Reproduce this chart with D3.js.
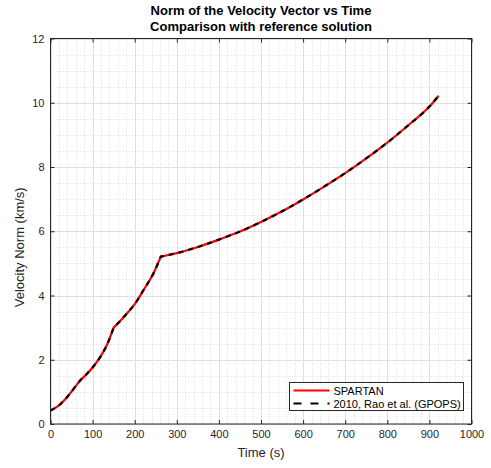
<!DOCTYPE html>
<html>
<head>
<meta charset="utf-8">
<script src="https://cdn.jsdelivr.net/npm/d3@7"></script>
<style>
  html, body { margin: 0; padding: 0; background: #fff; }
  svg { display: block; font-family: "Liberation Sans", Arial, Helvetica, sans-serif; }
</style>
</head>
<body>
<svg id="chart" width="491" height="468"></svg>
<script>
// Time samples (s) and velocity norm (km/s) for the two trajectories
const timeSpartan = [0, 20, 35, 50, 71, 85, 100, 118, 135, 150, 165, 182, 200, 221, 245, 262, 280, 300, 350, 400, 450, 500, 550, 600, 650, 700, 750, 800, 850, 900, 922];
const velSpartan  = [0.42, 0.58, 0.77, 1.01, 1.36, 1.54, 1.76, 2.08, 2.49, 3.00, 3.20, 3.45, 3.73, 4.17, 4.70, 5.21, 5.26, 5.32, 5.51, 5.74, 5.99, 6.29, 6.62, 6.99, 7.39, 7.81, 8.27, 8.76, 9.30, 9.88, 10.22];
const timeGpops = [0, 20, 35, 50, 71, 85, 100, 118, 135, 150, 165, 182, 200, 221, 245, 262, 280, 300, 350, 400, 450, 500, 550, 600, 650, 700, 750, 800, 850, 900, 922];
const velGpops  = [0.42, 0.58, 0.77, 1.01, 1.36, 1.54, 1.76, 2.08, 2.49, 3.00, 3.20, 3.45, 3.73, 4.17, 4.70, 5.21, 5.26, 5.32, 5.51, 5.74, 5.99, 6.29, 6.62, 6.99, 7.39, 7.81, 8.27, 8.76, 9.30, 9.88, 10.22];
// Phase boundaries (s): the velocity profile has corners here
const phaseBreaks = [150, 262];

const xTicks = [0, 100, 200, 300, 400, 500, 600, 700, 800, 900, 1000];
const yTicks = [0, 2, 4, 6, 8, 10, 12];
const seriesNames = ["SPARTAN", "2010, Rao et al. (GPOPS)"];
const titleLines = ["Norm of the Velocity Vector vs Time", "Comparison with reference solution"];

const svg = d3.select("#chart");
const plotL = 50.5, plotR = 471.5, plotT = 38.5, plotB = 424;
const x = d3.scaleLinear().domain([0, 1000]).range([plotL, plotR]);
const y = d3.scaleLinear().domain([0, 12]).range([plotB, plotT]);
const ink = "#262626";

// Minor grid (dotted)
const xMinor = d3.range(0, 1001, 20).filter(v => v % 100 !== 0);
const yMinor = d3.range(0, 12.01, 0.5).filter(v => v % 2 !== 0);
const grid = svg.append("g");
grid.selectAll("line.xm").data(xMinor).enter().append("line")
  .attr("x1", d => Math.round(x(d)) + 0.5).attr("x2", d => Math.round(x(d)) + 0.5)
  .attr("y1", plotT).attr("y2", plotB)
  .attr("stroke", "#d8d8d8").attr("stroke-width", 1).attr("stroke-dasharray", "1,2");
grid.selectAll("line.ym").data(yMinor).enter().append("line")
  .attr("y1", d => Math.round(y(d)) + 0.5).attr("y2", d => Math.round(y(d)) + 0.5)
  .attr("x1", plotL).attr("x2", plotR)
  .attr("stroke", "#d8d8d8").attr("stroke-width", 1).attr("stroke-dasharray", "1,2");
// Major grid
grid.selectAll("line.xM").data(xTicks).enter().append("line")
  .attr("x1", d => Math.round(x(d)) + 0.5).attr("x2", d => Math.round(x(d)) + 0.5)
  .attr("y1", plotT).attr("y2", plotB)
  .attr("stroke", "#dedede").attr("stroke-width", 1);
grid.selectAll("line.yM").data(yTicks).enter().append("line")
  .attr("y1", d => Math.round(y(d)) + 0.5).attr("y2", d => Math.round(y(d)) + 0.5)
  .attr("x1", plotL).attr("x2", plotR)
  .attr("stroke", "#dedede").attr("stroke-width", 1);

// Smooth within each flight phase, keep the corners at phase boundaries
const seg = d3.line().x(d => x(d[0])).y(d => y(d[1])).curve(d3.curveMonotoneX);
function phasedPath(ts, vs) {
  const pts = d3.zip(ts, vs);
  const cuts = [0, ...phaseBreaks.map(b => ts.indexOf(b)), ts.length - 1];
  let d = "";
  for (let i = 0; i < cuts.length - 1; i++) {
    const p = seg(pts.slice(cuts[i], cuts[i + 1] + 1));
    d += i === 0 ? p : "L" + p.slice(1);
  }
  return d;
}
svg.append("path").attr("d", phasedPath(timeSpartan, velSpartan))
  .attr("fill", "none").attr("stroke", "#ff0000").attr("stroke-width", 2.2)
  .attr("stroke-linejoin", "round");
svg.append("path").attr("d", phasedPath(timeGpops, velGpops))
  .attr("fill", "none").attr("stroke", "#000").attr("stroke-width", 2.2)
  .attr("stroke-dasharray", "5,5");

// Axes (ticks point inward, box on all sides)
function styleAxis(g) {
  g.select(".domain").remove();
  g.selectAll(".tick line").attr("stroke", ink);
  g.selectAll(".tick text").attr("fill", ink).style("font-size", "11px")
    .style("font-family", "'Liberation Sans', Arial, sans-serif");
}
svg.append("g").attr("transform", `translate(0,${plotB})`)
  .call(d3.axisBottom(x).tickValues(xTicks).tickFormat(d3.format("d")).tickSizeInner(-4).tickSizeOuter(0).tickPadding(6))
  .call(styleAxis);
svg.append("g").attr("transform", `translate(0,${plotT})`)
  .call(d3.axisTop(x).tickValues(xTicks).tickFormat("").tickSizeInner(-4).tickSizeOuter(0))
  .call(styleAxis);
svg.append("g").attr("transform", `translate(${plotL},0)`)
  .call(d3.axisLeft(y).tickValues(yTicks).tickFormat(d3.format("d")).tickSizeInner(-4).tickSizeOuter(0).tickPadding(6))
  .call(styleAxis);
svg.append("g").attr("transform", `translate(${plotR},0)`)
  .call(d3.axisRight(y).tickValues(yTicks).tickFormat("").tickSizeInner(-4).tickSizeOuter(0))
  .call(styleAxis);

svg.append("rect").attr("x", plotL).attr("y", plotT)
  .attr("width", plotR - plotL).attr("height", plotB - plotT)
  .attr("fill", "none").attr("stroke", ink).attr("stroke-width", 1);

// Axis labels
svg.append("text").attr("x", (plotL + plotR) / 2).attr("y", 457)
  .attr("text-anchor", "middle").attr("fill", ink).style("font-size", "13px")
  .text("Time (s)");
svg.append("text").attr("transform", `translate(24,${(plotT + plotB) / 2 + 16}) rotate(-90)`)
  .attr("text-anchor", "middle").attr("fill", ink).style("font-size", "13px")
  .text("Velocity Norm (km/s)");

// Title
svg.append("g").selectAll("text").data(titleLines).enter().append("text")
  .attr("x", (plotL + plotR) / 2).attr("y", (d, i) => 15 + i * 16)
  .attr("text-anchor", "middle").attr("fill", "#000")
  .style("font-size", "13px").style("font-weight", "bold")
  .text(d => d);

// Legend
const lg = svg.append("g").attr("transform", "translate(289.5,382.5)");
lg.append("rect").attr("width", 174).attr("height", 28)
  .attr("fill", "#fff").attr("stroke", ink).attr("stroke-width", 1);
const legendStyles = [
  { color: "#ff0000", dash: null },
  { color: "#000", dash: "8,9" }
];
seriesNames.forEach((name, i) => {
  const cy = 8 + i * 13;
  lg.append("line").attr("x1", 4).attr("x2", 40).attr("y1", cy).attr("y2", cy)
    .attr("stroke", legendStyles[i].color).attr("stroke-width", 2.2)
    .attr("stroke-dasharray", legendStyles[i].dash);
  lg.append("text").attr("x", 44).attr("y", cy + 4)
    .attr("fill", "#000").style("font-size", "11px").text(name);
});
</script>
</body>
</html>
